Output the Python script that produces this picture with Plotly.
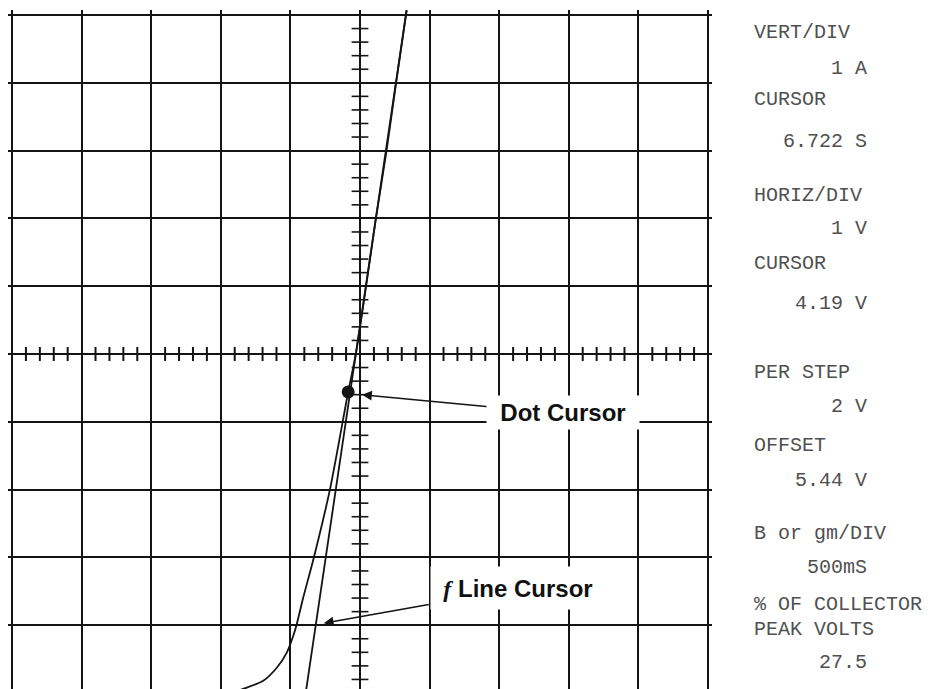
import numpy as np
import plotly.graph_objects as go

# ---- data (graticule divisions; HORIZ 1 V/div, VERT 1 A/div; origin = screen centre) ----
curve_x = [-1.95, -1.68, -1.39, -1.19, -1.05, -0.96, -0.905, -0.82, -0.66, -0.43,
           -0.17, -0.06, 0.09, 0.23, 0.38, 0.52, 0.67]
curve_y = [-5.04, -4.94, -4.82, -4.62, -4.40, -4.16, -3.97, -3.61, -2.99, -1.99,
           -0.56, 0.00, 1.02, 2.01, 2.99, 4.01, 5.07]

fline_x = [-0.78, 0.67]
fline_y = [-5.0, 5.07]

dot_x = [-0.17]
dot_y = [-0.56]

panel_labels = ["VERT/DIV", "CURSOR", "HORIZ/DIV", "CURSOR", "PER STEP",
                "OFFSET", "B or gm/DIV", "% OF COLLECTOR", "PEAK VOLTS"]
panel_values = ["1 A", "6.722 S", "1 V", "4.19 V", "2 V", "5.44 V", "500mS", "27.5"]

# ---- layout geometry (page is offset by the 8px body margin) ----
OFF = 8
W, H = 933 - OFF, 689 - OFF
ML, MR, MT, MB = 0, 221, 2, 0
PW, PH = W - ML - MR, H - MT - MB
XR = [-5 - 4 / 69.6, 5 + 4 / 69.6]
YR = [-5 + 4 / 67.8, 5 + 5 / 67.8]

def px(x):
    return (x - OFF - ML) / PW

def py(y):
    return (H + OFF - MB - y) / PH

label_py = [33, 100, 195, 263, 372, 446, 533, 604, 629]
value_py = [68, 141, 229, 303, 407, 480, 567, 662]

LINE = "#141414"
fig = go.Figure()

# graticule minor ticks on centre lines
minor = [v for v in np.round(np.arange(-5, 5.001, 0.2), 2) if abs(v - round(v)) > 1e-6]
fig.add_trace(go.Scatter(x=[0] * len(minor), y=minor, mode="markers",
                         marker=dict(symbol="line-ew", size=12, line=dict(width=1.6, color=LINE)),
                         hoverinfo="skip", showlegend=False))
fig.add_trace(go.Scatter(x=minor, y=[0] * len(minor), mode="markers",
                         marker=dict(symbol="line-ns", size=10, line=dict(width=2, color=LINE)),
                         hoverinfo="skip", showlegend=False))

# f line cursor
fig.add_trace(go.Scatter(x=fline_x, y=fline_y, mode="lines",
                         line=dict(color=LINE, width=1.8), showlegend=False))
# device characteristic
fig.add_trace(go.Scatter(x=curve_x, y=curve_y, mode="lines",
                         line=dict(color=LINE, width=1.8, shape="spline", smoothing=0.7),
                         showlegend=False))
# dot cursor
fig.add_trace(go.Scatter(x=dot_x, y=dot_y, mode="markers",
                         marker=dict(size=13, color=LINE), showlegend=False))

ann = []
# arrows
ann.append(dict(x=0.03, y=-0.60, ax=1.87, ay=-0.78, xref="x", yref="y", axref="x", ayref="y",
                text="", showarrow=True, arrowhead=2, arrowsize=1.3, arrowwidth=1.5,
                arrowcolor=LINE))
ann.append(dict(x=-0.52, y=-3.97, ax=1.01, ay=-3.69, xref="x", yref="y", axref="x", ayref="y",
                text="", showarrow=True, arrowhead=2, arrowsize=1.3, arrowwidth=1.5,
                arrowcolor=LINE))
# callout labels
ann.append(dict(x=px(563), y=py(412), xref="paper", yref="paper", text="<b>Dot Cursor</b>",
                showarrow=False, bgcolor="white", width=150, height=31, xanchor="center",
                yanchor="middle", font=dict(family="Liberation Sans, Arial", size=24, color="#111")))
ann.append(dict(x=px(518), y=py(588), xref="paper", yref="paper",
                text="<span style='font-family:Liberation Serif'><b><i>f</i></b></span><b> Line Cursor</b>",
                showarrow=False, bgcolor="white", width=172, height=40, xanchor="center",
                yanchor="middle", font=dict(family="Liberation Sans, Arial", size=24, color="#111")))

PF = dict(family="Liberation Mono, DejaVu Sans Mono, monospace", size=20, color="#505050")
for t, yy in zip(panel_labels, label_py):
    ann.append(dict(x=px(752), y=py(yy), xref="paper", yref="paper", text=t, showarrow=False,
                    xanchor="left", yanchor="middle", font=PF))
for t, yy in zip(panel_values, value_py):
    ann.append(dict(x=px(869), y=py(yy), xref="paper", yref="paper", text=t, showarrow=False,
                    xanchor="right", yanchor="middle", font=PF))

axis_common = dict(showticklabels=False, ticks="", zeroline=False, showgrid=True,
                   gridcolor=LINE, gridwidth=1.8, dtick=1, tick0=0, fixedrange=True)
fig.update_layout(
    width=W, height=H, margin=dict(l=ML, r=MR, t=MT, b=MB, pad=0),
    paper_bgcolor="white", plot_bgcolor="white", showlegend=False,
    xaxis=dict(range=XR, **axis_common),
    yaxis=dict(range=YR, **axis_common),
    annotations=ann,
)
fig.write_html("out.html")
